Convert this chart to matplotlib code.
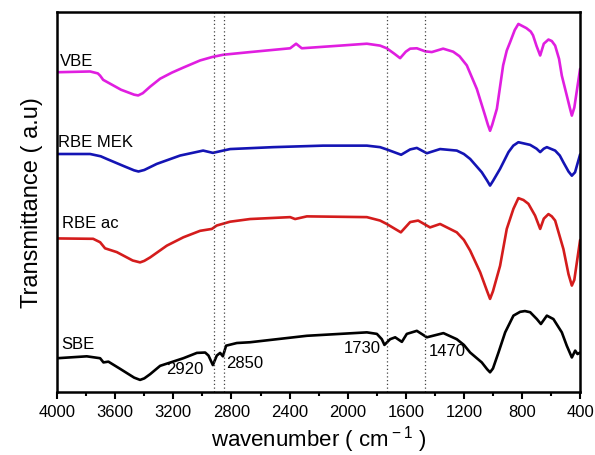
import numpy as np
import matplotlib
matplotlib.use("Agg")
import matplotlib.pyplot as plt

plt.rcParams['font.family'] = ['Liberation Sans', 'DejaVu Sans']
plt.rcParams['mathtext.fontset'] = 'custom'
plt.rcParams['mathtext.rm'] = 'Liberation Sans'

# FTIR spectra (wavenumber in cm-1, transmittance in a.u.)
wn_vbe = [4000, 3773, 3720, 3704, 3683, 3560, 3470, 3442, 3410, 3360, 3291, 3210, 3133, 3016,
          2933, 2857, 2672, 2396, 2355, 2316, 2052, 1868, 1777, 1731, 1680, 1639, 1600, 1570,
          1524, 1467, 1421, 1343, 1274, 1230, 1180, 1111, 1054, 1035, 1020, 1005, 973, 930, 905,
          882, 850, 825, 800, 770, 740, 724, 700, 675, 650, 618, 595, 572, 545, 526, 492, 470,
          457, 440, 400]
t_vbe = [84.1, 84.3, 83.8, 83.2, 82.1, 79.5, 78.2, 78.0, 78.6, 80.3, 82.4, 84.0, 85.3, 87.2,
         88.1, 88.7, 89.4, 90.4, 91.6, 90.4, 91.1, 91.6, 91.1, 90.4, 89.0, 87.8, 89.5, 90.3,
         90.4, 89.6, 89.4, 90.3, 89.5, 88.3, 85.9, 79.7, 72.7, 70.3, 68.7, 70.3, 74.5, 85.9, 89.8,
         92.0, 95.2, 96.8, 96.3, 95.7, 94.8, 93.8, 91.0, 88.5, 91.6, 92.7, 92.3, 91.1, 87.6,
         83.2, 78.0, 74.6, 72.7, 74.8, 85.0]

wn_mek = [4000, 3773, 3700, 3658, 3540, 3470, 3440, 3400, 3314, 3153, 2995, 2928, 2857, 2809,
          2513, 2169, 1868, 1777, 1731, 1632, 1570, 1524, 1455, 1364, 1249, 1200, 1157, 1077,
          1040, 1020, 1000, 951, 893, 860, 825, 790, 744, 700, 675, 650, 629, 572, 540, 515,
          480, 457, 435, 400]
t_mek = [62.6, 62.6, 62.0, 61.3, 59.4, 58.3, 58.0, 58.4, 60.0, 62.2, 63.5, 62.9, 63.5, 63.9,
         64.4, 64.8, 64.8, 64.4, 63.8, 62.4, 63.8, 64.2, 62.8, 63.9, 63.5, 62.6, 61.3, 57.8,
         55.6, 54.3, 55.5, 58.7, 63.1, 64.8, 65.7, 65.4, 65.0, 64.0, 63.1, 64.0, 64.4, 63.5,
         62.2, 60.4, 58.0, 56.9, 57.8, 62.5]

wn_ac = [4000, 3752, 3704, 3670, 3589, 3480, 3429, 3400, 3360, 3245, 3131, 3016, 2935, 2901,
         2809, 2672, 2396, 2362, 2281, 1868, 1777, 1731, 1634, 1570, 1515, 1433, 1364, 1249,
         1200, 1157, 1088, 1040, 1020, 1000, 951, 905, 859, 825, 790, 756, 710, 675, 650, 618,
         595, 572, 515, 480, 457, 440, 400]
t_ac = [40.4, 40.3, 39.4, 37.8, 36.8, 34.6, 34.1, 34.5, 35.4, 38.5, 40.7, 42.4, 42.9, 43.8,
        44.8, 45.5, 46.0, 45.5, 46.2, 46.0, 45.1, 44.2, 42.0, 44.7, 45.1, 43.3, 44.2, 42.0,
        40.0, 37.2, 31.5, 26.5, 24.5, 26.5, 33.2, 42.9, 48.2, 51.0, 50.5, 49.5, 46.4, 42.9,
        45.6, 46.8, 46.2, 45.1, 37.6, 31.0, 28.0, 29.5, 40.0]

wn_sbe = [4000, 3796, 3704, 3681, 3647, 3566, 3470, 3429, 3400, 3360, 3291, 3131, 3038, 2981,
          2958, 2928, 2901, 2878, 2859, 2837, 2763, 2672, 2281, 1868, 1799, 1765, 1747, 1708,
          1673, 1627, 1593, 1524, 1479, 1455, 1341, 1249, 1200, 1157, 1077, 1040, 1020, 1000,
          962, 916, 859, 813, 780, 744, 698, 670, 629, 584, 526, 492, 457, 434, 418, 400]
t_sbe = [8.9, 9.4, 8.9, 7.8, 8.0, 6.1, 3.8, 3.2, 3.6, 4.7, 6.9, 8.9, 10.3, 10.4,
         9.6, 7.1, 9.6, 10.3, 9.4, 12.2, 12.9, 13.1, 14.8, 15.7, 15.3, 13.9, 12.4, 13.9,
         14.4, 13.2, 15.3, 16.1, 15.0, 14.4, 15.5, 13.9, 12.4, 10.4, 7.8, 6.0, 5.2, 6.2,
         10.4, 15.7, 20.1, 21.1, 21.3, 21.0, 19.2, 17.9, 20.1, 19.2, 15.7, 12.2, 9.1, 10.9,
         10.0, 10.4]

names = ["VBE", "RBE MEK", "RBE ac", "SBE"]
colors = ["#e01ee0", "#1414b4", "#d41c1c", "black"]
label_pos = [(3979, 87.1), (3993, 65.8), (3968, 44.5), (3968, 12.9)]

marked_bands = [2920, 2850, 1730, 1470]
band_label_pos = [(3119, 6.1), (2706, 7.9), (1901, 11.6), (1318, 10.8)]

fig = plt.figure(figsize=(5.95, 4.56), dpi=100)
ax = fig.add_axes([0.096, 0.138, 0.879, 0.834])

spectra = [(wn_vbe, t_vbe), (wn_mek, t_mek), (wn_ac, t_ac), (wn_sbe, t_sbe)]
for (wn, t), c in zip(spectra, colors):
    ax.plot(wn, t, color=c, lw=1.9, solid_joinstyle='round', solid_capstyle='round')

for name, (x, y) in zip(names, label_pos):
    ax.text(x, y, name, fontsize=12, ha='left', va='center')

for b in marked_bands:
    ax.axvline(b, color='#444444', ls=(0, (1, 2)), lw=0.9)

for b, (x, y) in zip(marked_bands, band_label_pos):
    ax.text(x, y, str(b), fontsize=12, ha='center', va='center')

ax.set_xlim(4000, 400)
ax.set_ylim(0, 100)
ax.set_xticks(np.arange(4000, 399, -400))
ax.set_xticks(np.arange(4000, 399, -200), minor=True)
ax.set_yticks([])
ax.tick_params(axis='x', which='major', direction='out', length=5, width=1.5, labelsize=12)
ax.tick_params(axis='x', which='minor', direction='out', length=3, width=1.5)
for s in ax.spines.values():
    s.set_linewidth(1.8)

ax.set_xlabel("wavenumber ( cm$^{\\rm -1}$ )", fontsize=16, labelpad=3)
ax.set_ylabel("Transmittance ( a.u)", fontsize=17, labelpad=10)

plt.savefig("out.png", dpi=100)
